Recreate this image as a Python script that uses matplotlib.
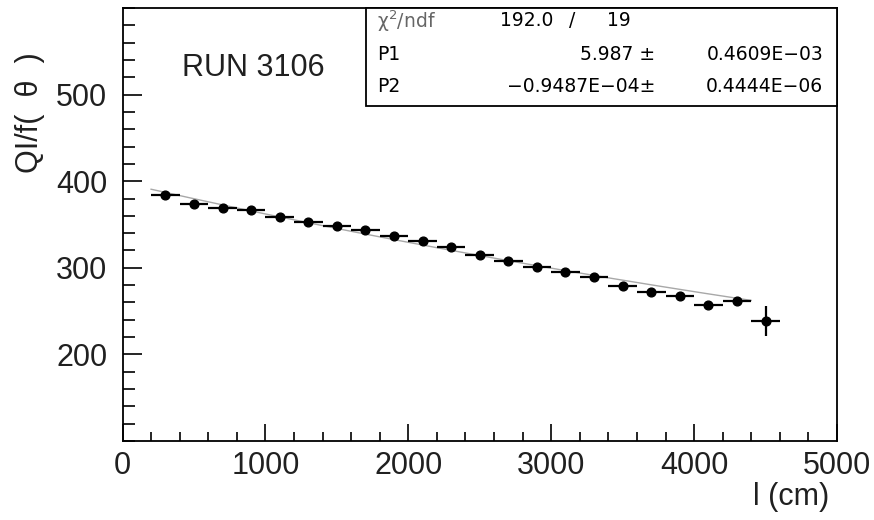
import numpy as np
import matplotlib
matplotlib.use("Agg")
import matplotlib.pyplot as plt
from matplotlib.ticker import MultipleLocator, FixedLocator

# ---- data ----
l_cm = [300, 500, 700, 900, 1100, 1300, 1500, 1700, 1900, 2100, 2300,
        2500, 2700, 2900, 3100, 3300, 3500, 3700, 3900, 4100, 4300, 4500]
q_val = [384.6, 373.1, 368.8, 366.2, 358.9, 353.1, 348.4, 343.1, 336.9, 330.8, 323.5,
         315.0, 308.1, 300.8, 295.0, 289.2, 278.9, 272.0, 267.3, 257.0, 262.0, 238.4]
q_err = [1.5] * 21 + [17.0]
l_err = [100] * 22
fit_p1 = 5.987
fit_p2 = -0.9487e-04
fit_range = [200, 4400]
run_label = "RUN 3106"
stats_rows = [
    ("P1", "5.987 \u00b1", "0.4609E\u221203"),
    ("P2", "\u22120.9487E\u221204\u00b1", "0.4444E\u221206"),
]
chi2_text = ("192.0", "/", "19")

plt.rcParams['font.family'] = ['Liberation Sans', 'DejaVu Sans']

fig = plt.figure(figsize=(8.74, 5.20), dpi=100)
W, H = 874, 520
L, R, T, B = 122.5, 837, 8, 441
ax = fig.add_axes([L / W, 1 - B / H, (R - L) / W, (B - T) / H])

# fit line
xf = np.linspace(fit_range[0], fit_range[1], 200)
ax.plot(xf, np.exp(fit_p1 + fit_p2 * xf), color='#a8a8a8', lw=1.0, zorder=2)

# data
ax.errorbar(l_cm, q_val, xerr=l_err, yerr=q_err, fmt='o', color='black',
            ms=6.3, elinewidth=1.6, capsize=0, zorder=3)

ax.set_xlim(0, 5000)
ax.set_ylim(100, 600)
ax.xaxis.set_major_locator(MultipleLocator(1000))
ax.xaxis.set_minor_locator(MultipleLocator(200))
ax.yaxis.set_major_locator(FixedLocator([200, 300, 400, 500]))
ax.yaxis.set_minor_locator(MultipleLocator(20))

for s in ax.spines.values():
    s.set_linewidth(1.3)
ax.tick_params(axis='both', which='both', direction='in', width=1.2,
               labelsize=22, top=False, right=False, labelcolor='#202020')
ax.tick_params(axis='x', which='major', length=12.5, pad=7)
ax.tick_params(axis='x', which='minor', length=6.5)
ax.tick_params(axis='y', which='major', length=14, pad=11)
ax.tick_params(axis='y', which='minor', length=8.5)

# axis titles
fig.text(30 / W, 1 - 173 / H, "QI/f(  \u03b8  )", rotation=90, ha='center', va='bottom',
         fontsize=22, color='#202020')
fig.text(829 / W, 1 - 497 / H, "l (cm)", ha='right', va='center', fontsize=22,
         color='#202020')

# run label
fig.text(182 / W, 1 - 68 / H, run_label, ha='left', va='center', fontsize=22,
         color='#202020')

# stats box
box_l, box_b = 366, 106
rect = plt.Rectangle((box_l / W, 1 - box_b / H), (R - box_l) / W, (box_b - T) / H,
                     transform=fig.transFigure, fill=True, facecolor='white',
                     edgecolor='black', lw=1.3, zorder=5)
fig.add_artist(rect)
bf = dict(fontsize=13.5, family='DejaVu Sans', va='center', zorder=6)
fig.text(377 / W, 1 - 21 / H, "\u03c7$^2$/ndf", ha='left', color='#666666', **bf)
fig.text(500 / W, 1 - 21 / H, chi2_text[0], ha='left', **bf)
fig.text(572 / W, 1 - 21 / H, chi2_text[1], ha='center', **bf)
fig.text(607 / W, 1 - 21 / H, chi2_text[2], ha='left', **bf)
for (name, val, err), yy in zip(stats_rows, [55, 87]):
    fig.text(377 / W, 1 - yy / H, name, ha='left', **bf)
    fig.text(655 / W, 1 - yy / H, val, ha='right', **bf)
    fig.text(823 / W, 1 - yy / H, err, ha='right', **bf)

fig.savefig("out.png", dpi=100)
